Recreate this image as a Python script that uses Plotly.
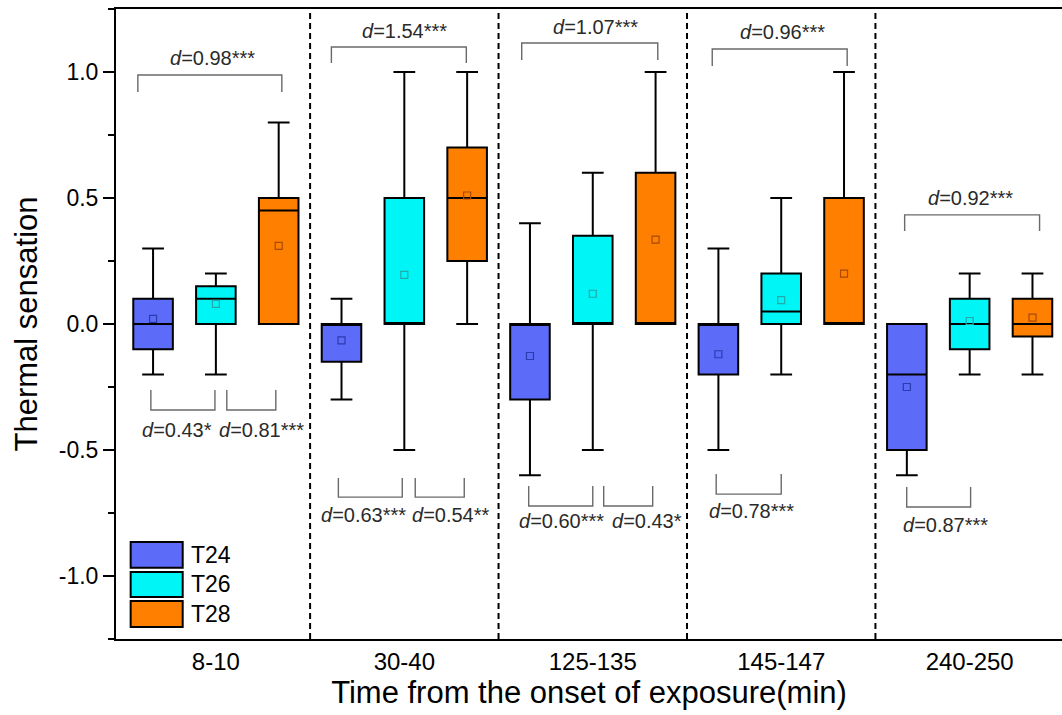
import plotly.graph_objects as go

# Exposure periods and temperature conditions
periods = ["8-10", "30-40", "125-135", "145-147", "240-250"]
conditions = ["T24", "T26", "T28"]

# Box statistics of thermal sensation votes (per condition, per period)
t24_lower = [-0.2, -0.3, -0.6, -0.5, -0.6]
t24_q1 = [-0.1, -0.15, -0.3, -0.2, -0.5]
t24_median = [0.0, 0.0, 0.0, 0.0, -0.2]
t24_q3 = [0.1, 0.0, 0.0, 0.0, 0.0]
t24_upper = [0.3, 0.1, 0.4, 0.3, 0.0]
t24_mean = [0.02, -0.065, -0.127, -0.12, -0.25]

t26_lower = [-0.2, -0.5, -0.5, -0.2, -0.2]
t26_q1 = [0.0, 0.0, 0.0, 0.0, -0.1]
t26_median = [0.1, 0.0, 0.0, 0.05, 0.0]
t26_q3 = [0.15, 0.5, 0.35, 0.2, 0.1]
t26_upper = [0.2, 1.0, 0.6, 0.5, 0.2]
t26_mean = [0.08, 0.195, 0.12, 0.095, 0.012]

t28_lower = [0.0, 0.0, 0.0, 0.0, -0.2]
t28_q1 = [0.0, 0.25, 0.0, 0.0, -0.05]
t28_median = [0.45, 0.5, 0.0, 0.0, 0.0]
t28_q3 = [0.5, 0.7, 0.6, 0.5, 0.1]
t28_upper = [0.8, 1.0, 1.0, 1.0, 0.2]
t28_mean = [0.31, 0.51, 0.335, 0.2, 0.025]

y_ticks = [-1.0, -0.5, 0.0, 0.5, 1.0]

# Effect sizes (Cohen's d) between conditions
# (period index, left offset, right offset, bar y, leg y, label, label x offset, label y)
top_brackets = [
    (0, -0.414, 0.350, 0.988, 0.921, "0.98***", -0.02, 1.056),
    (1, -0.387, 0.329, 1.099, 1.036, "1.54***", 0.0, 1.163),
    (2, -0.377, 0.345, 1.115, 1.048, "1.07***", 0.016, 1.177),
    (3, -0.366, 0.350, 1.091, 1.024, "0.96***", 0.005, 1.159),
    (4, -0.345, 0.371, 0.433, 0.369, "0.92***", 0.005, 0.500),
]
bottom_brackets = [
    (0, -0.345, -0.005, -0.341, -0.262, "0.43*", -0.207, -0.420),
    (0, 0.058, 0.318, -0.341, -0.262, "0.81***", 0.244, -0.420),
    (1, -0.350, -0.011, -0.687, -0.611, "0.63***", -0.217, -0.758),
    (1, 0.058, 0.318, -0.687, -0.611, "0.54**", 0.249, -0.758),
    (2, -0.340, 0.0, -0.722, -0.643, "0.60***", -0.164, -0.782),
    (2, 0.058, 0.318, -0.722, -0.643, "0.43*", 0.289, -0.782),
    (3, -0.345, 0.0, -0.675, -0.595, "0.78***", -0.160, -0.742),
    (4, -0.334, 0.005, -0.726, -0.647, "0.87***", -0.127, -0.798),
]

fill_colors = ["#5c6cf8", "#00f6f6", "#ff7f00"]
mean_colors = ["#2b3bb0", "#25a8a8", "#a84a00"]
offsets = [-1 / 3, 0.0, 1 / 3]
FONT = "Arial, Liberation Sans, sans-serif"

stats = [
    (t24_lower, t24_q1, t24_median, t24_q3, t24_upper, t24_mean),
    (t26_lower, t26_q1, t26_median, t26_q3, t26_upper, t26_mean),
    (t28_lower, t28_q1, t28_median, t28_q3, t28_upper, t28_mean),
]

fig = go.Figure()

for k, (name, (lo, q1, med, q3, hi, mean)) in enumerate(zip(conditions, stats)):
    xs = [i + offsets[k] for i in range(len(periods))]
    fig.add_trace(go.Box(
        name=name, x=xs, q1=q1, median=med, q3=q3,
        lowerfence=lo, upperfence=hi,
        width=0.21, whiskerwidth=0.55, boxpoints=False,
        fillcolor=fill_colors[k], line=dict(color="black", width=2),
        hoverinfo="skip", showlegend=False,
    ))
    fig.add_trace(go.Scatter(
        x=xs, y=mean, mode="markers",
        marker=dict(symbol="square-open", size=7, color=mean_colors[k],
                    line=dict(width=1.2, color=mean_colors[k])),
        hoverinfo="skip", showlegend=False,
    ))

shapes = []
annotations = []

# dashed separators between periods
for i in range(len(periods) - 1):
    shapes.append(dict(type="line", xref="x", yref="y domain",
                       x0=i + 0.5, x1=i + 0.5, y0=0, y1=1,
                       line=dict(color="black", width=2, dash="6px,4px")))

bracket_line = dict(color="#6a6a6a", width=1.4)
for g, a, b, ybar, yleg, lab, lx, ly in top_brackets + bottom_brackets:
    x0, x1 = g + a, g + b
    shapes.append(dict(type="path", xref="x", yref="y",
                       path=f"M {x0},{yleg} L {x0},{ybar} L {x1},{ybar} L {x1},{yleg}",
                       line=bracket_line))
    annotations.append(dict(x=g + lx, y=ly, xref="x", yref="y",
                            text=f"<i>d</i>={lab}", showarrow=False,
                            font=dict(family=FONT, size=20, color="#2a2a2a"),
                            xanchor="center", yanchor="middle"))

# legend swatches
legend_rows = [(0.154, 0.113), (0.1065, 0.0668), (0.0604, 0.019)]
for k, name in enumerate(conditions):
    y_top, y_bot = legend_rows[k]
    shapes.append(dict(type="rect", xref="paper", yref="paper",
                       x0=0.0155, x1=0.0705, y0=y_bot, y1=y_top,
                       fillcolor=fill_colors[k], line=dict(color="black", width=2)))
    annotations.append(dict(x=0.077, y=(y_top + y_bot) / 2, xref="paper", yref="paper",
                            text=name, showarrow=False, xanchor="left", yanchor="middle",
                            font=dict(family=FONT, size=23, color="black")))

fig.update_layout(
    width=1062, height=715,
    margin=dict(l=116, r=0, t=9, b=76),
    paper_bgcolor="white", plot_bgcolor="white",
    boxmode="overlay",
    shapes=shapes, annotations=annotations,
    font=dict(family=FONT, color="black"),
    xaxis=dict(
        range=[-0.53, 4.49], tickmode="array",
        tickvals=list(range(len(periods))), ticktext=periods,
        showgrid=False, zeroline=False, ticks="",
        showline=True, linecolor="black", linewidth=2, mirror=True,
        tickfont=dict(family=FONT, size=24, color="black"),
        title=dict(text="Time from the onset of exposure(min)",
                   font=dict(family=FONT, size=31, color="black"), standoff=4),
    ),
    yaxis=dict(
        range=[-1.25, 1.25], tickmode="array", tickvals=y_ticks,
        ticktext=[f"{v:.1f}" for v in y_ticks],
        showgrid=False, zeroline=False,
        ticks="outside", ticklen=11, tickwidth=2, tickcolor="black",
        minor=dict(ticks="outside", ticklen=6, tickwidth=2, tickcolor="black",
                   dtick=0.25, tick0=0, showgrid=False),
        showline=True, linecolor="black", linewidth=2,
        tickfont=dict(family=FONT, size=23, color="black"),
        title=dict(text="Thermal sensation",
                   font=dict(family=FONT, size=31, color="black"), standoff=12),
    ),
)

fig.write_html("out.html")
